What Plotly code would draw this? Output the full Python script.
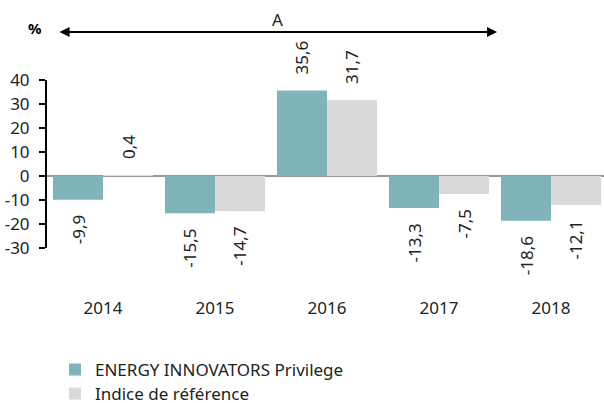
import plotly.graph_objects as go

years = ["2014", "2015", "2016", "2017", "2018"]
fund = [-9.9, -15.5, 35.6, -13.3, -18.6]
index = [0.4, -14.7, 31.7, -7.5, -12.1]
fund_name = "ENERGY INNOVATORS Privilege"
index_name = "Indice de référence"
ytick_vals = [-30, -20, -10, 0, 10, 20, 30, 40]

FONT = "Noto Sans"
FS = 17
TXT = "#222222"
TEAL = "#80B4BA"
GREY = "#D9D9D9"

W, H = 604, 403
L, R, T, B = 47, 0, 80, 155

def px_to_paper_x(px):
    return (px - L) / (W - L - R)

def px_to_paper_y(py):
    return (H - B - py) / (H - T - B)

def fmt(v):
    return f"{v:.1f}".replace(".", ",")

fig = go.Figure()
fig.add_trace(go.Bar(x=years, y=fund, name=fund_name, legend="legend",
                     marker=dict(color=TEAL, line=dict(width=0))))
fig.add_trace(go.Bar(x=years, y=index, name=index_name, legend="legend2",
                     marker=dict(color=GREY, line=dict(width=0))))

annotations = []
for series, shift in ((fund, -25), (index, 25)):
    for i, v in enumerate(series):
        annotations.append(dict(
            x=i, y=v, xref="x", yref="y", text=fmt(v), showarrow=False,
            textangle=-90, xshift=shift, xanchor="center",
            yanchor="bottom" if v >= 0 else "top",
            yshift=14 if v >= 0 else -14,
            font=dict(family=FONT, size=FS, color=TXT),
        ))

# double-headed arrow with label
annotations.append(dict(
    x=3.518, y=px_to_paper_y(32), xref="x", yref="paper",
    ax=-439, ay=0, axref="pixel", ayref="pixel",
    text="", showarrow=True, arrowhead=2, startarrowhead=2, arrowside="end+start",
    arrowwidth=2, arrowcolor="#000000", arrowsize=1, startarrowsize=1,
))
annotations.append(dict(
    x=px_to_paper_x(277), y=px_to_paper_y(20), xref="paper", yref="paper", text="A",
    showarrow=False, xanchor="center", yanchor="middle",
    font=dict(family=FONT, size=FS, color=TXT),
))
annotations.append(dict(
    x=px_to_paper_x(35), y=px_to_paper_y(28), xref="paper", yref="paper", text="<b>%</b>",
    showarrow=False, xanchor="center", yanchor="middle",
    font=dict(family=FONT, size=15, color="#000000"),
))

legend_common = dict(
    orientation="v", x=px_to_paper_x(55), xanchor="left", yanchor="middle",
    font=dict(family=FONT, size=FS, color=TXT),
    itemwidth=30, bgcolor="rgba(0,0,0,0)",
)

fig.update_layout(
    width=W, height=H,
    margin=dict(l=L, r=R, t=T, b=B, pad=0, autoexpand=False),
    paper_bgcolor="white", plot_bgcolor="white",
    barmode="group", bargap=0.107, bargroupgap=0,
    font=dict(family=FONT, size=FS, color=TXT),
    showlegend=True,
    legend=dict(legend_common, y=px_to_paper_y(370)),
    legend2=dict(legend_common, y=px_to_paper_y(394)),
    annotations=annotations,
)
fig.update_xaxes(
    type="category",
    range=[-0.5, 4.473], showline=False, showgrid=False, zeroline=False,
    ticks="", ticklabelstandoff=48,
    tickfont=dict(family=FONT, size=FS, color=TXT),
)
fig.update_yaxes(
    range=[-30, 40], tickvals=ytick_vals, ticktext=[str(v) for v in ytick_vals],
    showline=True, linecolor="#000000", linewidth=2,
    ticks="outside", ticklen=6, tickwidth=2, tickcolor="#000000",
    ticklabelstandoff=6,
    showgrid=False, zeroline=True, zerolinecolor="#999999", zerolinewidth=2,
    tickfont=dict(family=FONT, size=FS, color=TXT),
)

fig.write_html("out.html", config={"displayModeBar": False},
               post_script="document.body.style.margin='0';")
